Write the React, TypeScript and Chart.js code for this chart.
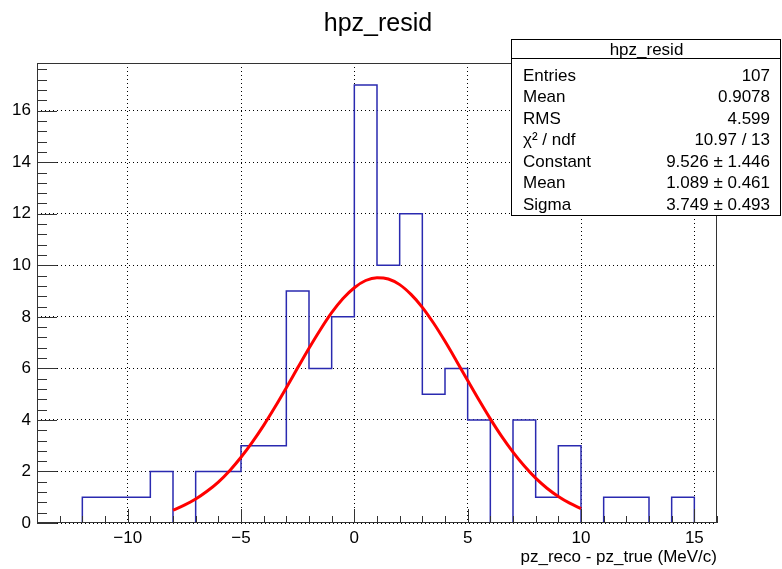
import React, { useEffect, useRef } from "react";
import { Chart, registerables } from "chart.js";

Chart.register(...registerables);

// ---------- data ----------
const binLowEdges = [-14, -13, -12, -11, -10, -9, -8, -7, -6, -5, -4, -3, -2, -1, 0, 1, 2, 3, 4, 5, 6, 7, 8, 9, 10, 11, 12, 13, 14, 15];
const binCounts = [0, 0, 1, 1, 1, 2, 0, 2, 2, 3, 3, 9, 6, 8, 17, 10, 12, 5, 6, 4, 0, 4, 1, 3, 0, 1, 1, 0, 1, 0];
const histUpperEdge = 16;

const fitX = [-8, -7.5, -7, -6.5, -6, -5.5, -5, -4.5, -4, -3.5, -3, -2.5, -2, -1.5, -1, -0.5, 0, 0.5, 1, 1.5, 2, 2.5, 3, 3.5, 4, 4.5, 5, 5.5, 6, 6.5, 7, 7.5, 8, 8.5, 9, 9.5, 10];
const fitY = [0.5, 0.69, 0.93, 1.23, 1.59, 2.03, 2.55, 3.14, 3.79, 4.5, 5.25, 6.02, 6.78, 7.5, 8.16, 8.71, 9.13, 9.41, 9.52, 9.47, 9.25, 8.87, 8.37, 7.75, 7.05, 6.3, 5.53, 4.77, 4.04, 3.36, 2.75, 2.21, 1.74, 1.35, 1.03, 0.77, 0.56];

const xTickValues = [-10, -5, 0, 5, 10, 15];
const yTickValues = [0, 2, 4, 6, 8, 10, 12, 14, 16];

const chartTitle = "hpz_resid";
const xAxisTitle = "pz_reco - pz_true (MeV/c)";
const statsTitle = "hpz_resid";
const statsLabels = ["Entries", "Mean", "RMS", "χ² / ndf", "Constant", "Mean", "Sigma"];
const statsValues = ["107", "0.9078", "4.599", "10.97 / 13", "9.526 ± 1.446", "1.089 ± 0.461", "3.749 ± 0.493"];

const FONT = '"Liberation Sans", Arial, Helvetica, sans-serif';

const fmt = (v: number) => (v < 0 ? "\u2212" + Math.abs(v) : String(v));

const decorPlugin = {
  id: "decor",
  afterDraw(chart: any) {
    const { ctx, chartArea: a, scales } = chart;
    const x = scales.x;
    const y = scales.y;
    ctx.save();
    ctx.strokeStyle = "#333";
    ctx.lineWidth = 1;
    ctx.setLineDash([]);
    ctx.beginPath();
    // x ticks (inside frame)
    for (let i = 0; i <= 30; i++) {
      const v = -14 + i;
      const px = Math.round(x.getPixelForValue(v)) + 0.5;
      const len = v % 5 === 0 ? 14 : 7;
      ctx.moveTo(px, a.bottom);
      ctx.lineTo(px, a.bottom - len);
    }
    // y ticks
    for (let i = 0; i * 0.4 <= y.max + 1e-9; i++) {
      const v = i * 0.4;
      const py = Math.round(y.getPixelForValue(v)) + 0.5;
      const len = i % 5 === 0 ? 20 : 10;
      ctx.moveTo(a.left, py);
      ctx.lineTo(a.left + len, py);
    }
    ctx.stroke();
    // frame
    ctx.strokeRect(Math.round(a.left) + 0.5, Math.round(a.top) + 0.5, Math.round(a.right - a.left) - 1, Math.round(a.bottom - a.top) - 1);

    // title
    ctx.fillStyle = "#000";
    ctx.font = `25px ${FONT}`;
    ctx.textAlign = "center";
    ctx.textBaseline = "alphabetic";
    ctx.fillText(chartTitle, 378, 31);

    // x axis title
    ctx.font = `17px ${FONT}`;
    ctx.textAlign = "right";
    ctx.fillText(xAxisTitle, Math.round(a.right), 562);

    // stats box
    const bx = 511, by = 39, bw = 269, bh = 176;
    ctx.fillStyle = "#fff";
    ctx.fillRect(bx, by, bw, bh);
    ctx.strokeStyle = "#000";
    ctx.strokeRect(bx + 0.5, by + 0.5, bw, bh);
    ctx.beginPath();
    ctx.moveTo(bx, 58.5);
    ctx.lineTo(bx + bw, 58.5);
    ctx.stroke();
    ctx.fillStyle = "#000";
    ctx.font = `17px ${FONT}`;
    ctx.textAlign = "center";
    ctx.fillText(statsTitle, bx + bw / 2 + 1, 55);
    for (let i = 0; i < statsLabels.length; i++) {
      const base = 80.7 + i * 21.5;
      ctx.textAlign = "left";
      ctx.fillText(statsLabels[i], 523, base);
      ctx.textAlign = "right";
      ctx.fillText(statsValues[i], 770, base);
    }
    ctx.restore();
  },
};

export default function App() {
  const ref = useRef<HTMLCanvasElement | null>(null);

  useEffect(() => {
    document.body.style.margin = "0";
    const canvas = ref.current;
    if (!canvas) return;
    const histData = binLowEdges
      .map((e, i) => ({ x: e, y: binCounts[i] }))
      .concat([{ x: histUpperEdge, y: binCounts[binCounts.length - 1] }]);
    const fitData = fitX.map((v, i) => ({ x: v, y: fitY[i] }));

    const chart = new Chart(canvas, {
      type: "line",
      data: {
        datasets: [
          {
            label: "fit",
            data: fitData,
            borderColor: "#ff0000",
            borderWidth: 3,
            pointRadius: 0,
            fill: false,
            cubicInterpolationMode: "monotone",
            order: 0,
          },
          {
            label: "hist",
            data: histData,
            borderColor: "#2a2ab0",
            borderWidth: 1.5,
            pointRadius: 0,
            fill: false,
            stepped: true,
            order: 1,
          },
        ],
      } as any,
      options: {
        responsive: false,
        animation: false,
        devicePixelRatio: 1,
        layout: { padding: { top: 63, right: 65, bottom: 0, left: 0 } },
        plugins: {
          legend: { display: false },
          tooltip: { enabled: false },
          title: { display: false },
        },
        scales: {
          x: {
            type: "linear",
            min: -14,
            max: 16,
            afterBuildTicks: (s: any) => {
              s.ticks = xTickValues.map((v) => ({ value: v }));
            },
            afterFit: (s: any) => {
              s.height = 46;
            },
            grid: { color: "#000", lineWidth: 1, drawTicks: false },
            border: { display: false, dash: [1, 3] },
            ticks: {
              color: "#000",
              font: { family: FONT, size: 17 },
              padding: 5,
              maxRotation: 0,
              autoSkip: false,
              callback: (v: any) => fmt(Number(v)),
            },
          },
          y: {
            type: "linear",
            min: 0,
            max: 17.85,
            afterBuildTicks: (s: any) => {
              s.ticks = yTickValues.map((v) => ({ value: v }));
            },
            afterFit: (s: any) => {
              s.width = 37;
            },
            grid: { color: "#000", lineWidth: 1, drawTicks: false },
            border: { display: false, dash: [1, 3] },
            ticks: {
              color: "#000",
              font: { family: FONT, size: 17 },
              padding: 6,
              autoSkip: false,
              callback: (v: any) => fmt(Number(v)),
            },
          },
        },
      } as any,
      plugins: [decorPlugin],
    });
    return () => chart.destroy();
  }, []);

  return (
    <div style={{ width: 782, height: 569, background: "#fff" }}>
      <canvas ref={ref} width={782} height={569} style={{ width: 782, height: 569, display: "block" }} />
    </div>
  );
}
